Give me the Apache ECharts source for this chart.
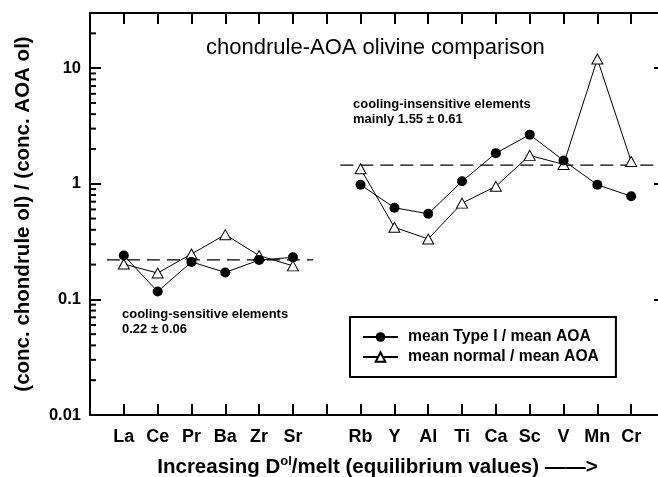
<!DOCTYPE html>
<html>
<head>
<meta charset="utf-8">
<script src="https://cdn.jsdelivr.net/npm/echarts@6/dist/echarts.min.js"></script>
<style>
html,body{margin:0;padding:0;background:#fff;}
#chart{width:658px;height:477px;}
</style>
</head>
<body>
<div id="chart"></div>
<script>
// ---- data ----
const categories = ['', 'La', 'Ce', 'Pr', 'Ba', 'Zr', 'Sr', '', 'Rb', 'Y', 'Al', 'Ti', 'Ca', 'Sc', 'V', 'Mn', 'Cr', ''];
const typeI  = [null, 0.24, 0.117, 0.211, 0.171, 0.219, 0.231, null, 0.98, 0.62, 0.55, 1.05, 1.84, 2.66, 1.59, 0.98, 0.78, null];
const normal = [null, 0.202, 0.169, 0.247, 0.363, 0.239, 0.195, null, 1.35, 0.42, 0.333, 0.68, 0.95, 1.76, 1.47, 12.0, 1.56, null];
const sensitiveMean   = [[0.5, 0.22], [6.6, 0.22]];
const insensitiveMean = [[7.4, 1.45], [17, 1.45]];
const yTickLabels = ['0.01', '0.1', '1', '10'];
const minorTickValues = [0.02,0.03,0.04,0.05,0.06,0.07,0.08,0.09,0.2,0.3,0.4,0.5,0.6,0.7,0.8,0.9,2,3,4,5,6,7,8,9,20];
const seriesNames = ['mean Type I / mean AOA', 'mean normal / mean AOA'];

const FONT = "'Liberation Sans', Arial, sans-serif";
const chart = echarts.init(document.getElementById('chart'), null, {renderer: 'canvas'});

const axisLine = {show: true, lineStyle: {color: '#000', width: 2}};
const option = {
  backgroundColor: '#fff',
  animation: false,
  grid: {left: 90, top: 13, width: 575, bottom: 62, containLabel: false, outerBoundsMode: 'none'},
  xAxis: [
    {
      type: 'category', data: categories, boundaryGap: false, position: 'bottom',
      axisLine: axisLine,
      axisTick: {show: true, inside: true, length: 11, interval: 0, lineStyle: {color: '#000', width: 2}},
      axisLabel: {interval: 0, margin: 13, color: '#000', fontFamily: FONT, fontWeight: 'bold', fontSize: 18},
      splitLine: {show: false},
      name: '{a|Increasing D}{s|ol}{a|/melt (equilibrium values) ——>}',
      nameLocation: 'middle', nameGap: 40,
      nameTextStyle: {
        rich: {
          a: {fontFamily: FONT, fontWeight: 'bold', fontSize: 20.5, color: '#000', verticalAlign: 'bottom', lineHeight: 23},
          s: {fontFamily: FONT, fontWeight: 'bold', fontSize: 13, color: '#000', verticalAlign: 'top', lineHeight: 23, padding: [0, 0, 9, 0]}
        }
      }
    },
    {
      type: 'category', data: categories, boundaryGap: false, position: 'top',
      axisLine: axisLine,
      axisTick: {show: true, inside: true, length: 11, interval: 0, lineStyle: {color: '#000', width: 2}},
      axisLabel: {show: false},
      splitLine: {show: false}
    },
    {type: 'value', min: 0, max: 17, show: false}
  ],
  yAxis: [
    {
      type: 'log', logBase: 10, min: 0.01, max: 30, position: 'left',
      axisLine: axisLine,
      axisTick: {show: true, inside: true, length: 11, lineStyle: {color: '#000', width: 2}},
      axisLabel: {
        margin: 9, color: '#000', fontFamily: FONT, fontWeight: 'bold', fontSize: 16.5,
        showMaxLabel: false,
        formatter: function (v) {
          const e = Math.log10(v);
          if (Math.abs(e - Math.round(e)) < 1e-6) {
            const idx = Math.round(e) + 2;
            return yTickLabels[idx] || '';
          }
          return '';
        }
      },
      splitLine: {show: false},
      name: '(conc. chondrule ol) / (conc. AOA ol)',
      nameLocation: 'middle', nameGap: 56,
      nameTextStyle: {fontFamily: FONT, fontWeight: 'bold', fontSize: 20.5, color: '#000'}
    },
    {
      type: 'log', logBase: 10, min: 0.01, max: 30, position: 'right',
      axisLine: axisLine,
      axisTick: {show: true, inside: true, length: 11, lineStyle: {color: '#000', width: 2}},
      axisLabel: {show: false},
      splitLine: {show: false}
    }
  ],
  legend: {
    orient: 'vertical', left: 350, top: 317,
    data: seriesNames,
    padding: [12, 17, 12, 12],
    itemGap: 4, itemWidth: 35, itemHeight: 12,
    borderColor: '#000', borderWidth: 2, borderRadius: 0,
    backgroundColor: '#fff',
    textStyle: {fontFamily: FONT, fontWeight: 'bold', fontSize: 15.7, color: '#000', padding: [0, 0, 0, 5]}
  },
  graphic: [
    {type: 'text', left: 206, top: 37, style: {text: 'chondrule-AOA olivine comparison', font: '22px ' + FONT, fill: '#000'}},
    {type: 'text', left: 353, top: 97, style: {text: 'cooling-insensitive elements\nmainly 1.55 ± 0.61', font: 'bold 13px ' + FONT, fill: '#000', lineHeight: 15}},
    {type: 'text', left: 122, top: 307, style: {text: 'cooling-sensitive elements\n0.22 ± 0.06', font: 'bold 13px ' + FONT, fill: '#000', lineHeight: 15}}
  ],
  series: [
    {
      type: 'custom', name: 'minorTicks', xAxisIndex: 0, yAxisIndex: 0, silent: true, clip: false,
      data: minorTickValues.map(v => [0, v]),
      renderItem: function (params, api) {
        const p = api.coord([0, api.value(1)]);
        return {type: 'line', shape: {x1: p[0], y1: p[1], x2: p[0] + 6, y2: p[1]}, style: {stroke: '#000', lineWidth: 2}};
      }
    },
    {
      type: 'line', name: 'sensitiveMean', xAxisIndex: 2, yAxisIndex: 0, data: sensitiveMean,
      symbol: 'none', silent: true, lineStyle: {color: '#000', width: 1.3, type: [13, 7]}, z: 1
    },
    {
      type: 'line', name: 'insensitiveMean', xAxisIndex: 2, yAxisIndex: 0, data: insensitiveMean,
      symbol: 'none', silent: true, lineStyle: {color: '#000', width: 1.3, type: [13, 7]}, z: 1
    },
    {
      type: 'line', name: seriesNames[1], xAxisIndex: 0, yAxisIndex: 0, data: normal,
      symbol: 'triangle', symbolSize: [11, 10], connectNulls: false,
      lineStyle: {color: '#000', width: 1},
      itemStyle: {color: '#fff', borderColor: '#000', borderWidth: 1},
      z: 3
    },
    {
      type: 'line', name: seriesNames[0], xAxisIndex: 0, yAxisIndex: 0, data: typeI,
      symbol: 'circle', symbolSize: 10, connectNulls: false,
      lineStyle: {color: '#000', width: 1},
      itemStyle: {color: '#000', borderColor: '#000', borderWidth: 0},
      z: 4
    }
  ]
};
chart.setOption(option);
</script>
</body>
</html>
